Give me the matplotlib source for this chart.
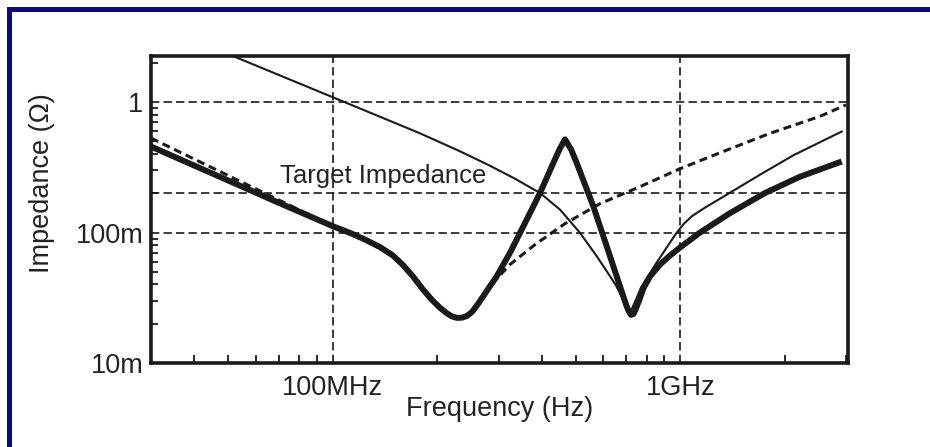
import numpy as np
import matplotlib
matplotlib.use('Agg')
import matplotlib.pyplot as plt
import matplotlib.ticker as plticker
from matplotlib.patches import Rectangle

# combined impedance (thick line)
total_freq = [30.0e6, 50.0e6, 70.0e6, 100.0e6, 112.1e6, 123.9e6, 136.8e6, 149.1e6, 159.3e6, 170.2e6,
	181.9e6, 193.1e6, 203.6e6, 213.3e6, 220.4e6, 227.9e6, 235.6e6, 243.5e6, 251.7e6, 261.9e6, 271.3e6,
	296.5e6, 323.7e6, 353.6e6, 395.0e6, 431.3e6, 449.5e6, 466.1e6, 485.1e6, 503.8e6, 562.3e6, 614.4e6,
	656.6e6, 680.1e6, 698.3e6, 710.0e6, 721.9e6, 734.0e6, 746.2e6, 763.7e6, 783.2e6, 818.8e6, 874.8e6,
	934.6e6, 998.7e6, 1.140e9, 1.391e9, 1.754e9, 2.212e9, 2.916e9]
total_z = [0.457, 0.251, 0.169, 0.112, 0.0995, 0.0884, 0.0774, 0.0667, 0.0564, 0.0461,
	0.0366, 0.03045, 0.0265, 0.0240, 0.02277, 0.02218, 0.02226, 0.02297, 0.02464, 0.02837, 0.0326,
	0.0463, 0.0700, 0.1117, 0.2012, 0.3414, 0.4354, 0.5192, 0.4354, 0.3414, 0.159, 0.0786,
	0.0461, 0.03475, 0.02812, 0.02508, 0.02338, 0.0238, 0.02622, 0.0307, 0.03728, 0.0461, 0.0569,
	0.06669, 0.07677, 0.100, 0.141, 0.2012, 0.2683, 0.351]

# thin solid line
thin_freq = [30.0e6, 51.6e6, 107.3e6, 178.3e6, 232.4e6, 283.5e6, 334.7e6, 395.0e6, 451.0e6, 514.9e6,
	575.2e6, 628.1e6, 653.6e6, 680.1e6, 698.3e6, 712.4e6, 726.7e6, 746.2e6, 771.3e6, 801.1e6, 852.0e6,
	914.4e6, 972.6e6, 1.0255e9, 1.0812e9, 1.178e9, 1.361e9, 1.697e9, 2.116e9, 2.916e9]
thin_z = [4.15, 2.26, 1.0106, 0.5771, 0.4203, 0.3256, 0.2589, 0.2012, 0.150, 0.0995,
	0.0659, 0.0463, 0.0393, 0.0318, 0.0267, 0.0249, 0.0262, 0.0307, 0.0379, 0.0445, 0.0579,
	0.0768, 0.0983, 0.1172, 0.1337, 0.1553, 0.1953, 0.2779, 0.3915, 0.5956]

# dashed line
dash_freq = [30.0e6, 54.8e6, 100.4e6, 112.1e6, 123.9e6, 136.8e6, 149.1e6, 159.3e6, 170.2e6, 181.9e6,
	193.1e6, 203.6e6, 213.3e6, 220.4e6, 227.9e6, 235.6e6, 243.5e6, 251.7e6, 261.9e6, 271.3e6,
	283.6e6, 323.7e6, 382.1e6, 466.2e6, 587.9e6, 766.1e6, 998.7e6, 1.302e9, 1.813e9, 2.525e9, 3.0e9]
dash_z = [0.5304, 0.2434, 0.1117, 0.0995, 0.0884, 0.0774, 0.0667, 0.0564, 0.0461, 0.0366,
	0.03045, 0.0265, 0.0240, 0.02277, 0.02218, 0.02226, 0.02297, 0.02464, 0.02837, 0.0326,
	0.0388, 0.0569, 0.0809, 0.1172, 0.1667, 0.2249, 0.3089, 0.4094, 0.577, 0.779, 0.953]

target_z = 0.2
x_ticks = [100e6, 1e9]
x_ticklabels = ['100MHz', '1GHz']
y_ticks = [0.01, 0.1, 1]
y_ticklabels = ['10m', '100m', '1']

plt.rcParams['font.family'] = ['Liberation Sans', 'DejaVu Sans']
ink = '#1a1a1a'

fig = plt.figure(figsize=(9.3, 4.47), dpi=100, facecolor='white')
ax = fig.add_axes([0.16237, 0.18792, 0.74946, 0.68680])

ax.set_xscale('log')
ax.set_yscale('log')
ax.set_xlim(30e6, 3.04e9)
ax.set_ylim(0.01, 2.26)

ax.axhline(target_z, color=ink, lw=1.2, dashes=(5, 2.5), zorder=1)
ax.plot(dash_freq, dash_z, color=ink, lw=2.2, dashes=(2.6, 1.6), zorder=3)
ax.plot(thin_freq, thin_z, color=ink, lw=1.5, zorder=4, solid_joinstyle='round')
ax.plot(total_freq, total_z, color=ink, lw=4.3, zorder=5, solid_joinstyle='round', solid_capstyle='butt')

ax.set_xticks(x_ticks)
ax.set_xticklabels(x_ticklabels)
ax.set_yticks(y_ticks)
ax.set_yticklabels(y_ticklabels)
ax.xaxis.set_minor_locator(plticker.LogLocator(base=10, subs=np.arange(2, 10)))
ax.yaxis.set_minor_locator(plticker.LogLocator(base=10, subs=np.arange(2, 10)))
ax.xaxis.set_minor_formatter(plticker.NullFormatter())
ax.yaxis.set_minor_formatter(plticker.NullFormatter())

ax.grid(True, which='major', color=ink, lw=1.2, dashes=(5, 2.5))
ax.set_axisbelow(True)

ax.tick_params(axis='both', which='both', direction='in', color=ink, labelcolor='#222222', labelsize=19.5)
ax.tick_params(axis='x', which='major', length=0, pad=9)
ax.tick_params(axis='x', which='minor', length=6, width=1.3)
ax.tick_params(axis='y', which='major', length=0, pad=5.5)
ax.tick_params(axis='y', which='minor', length=5, width=1.3)

for spine in ax.spines.values():
	spine.set_linewidth(2.6)
	spine.set_color(ink)

ax.set_xlabel('Frequency (Hz)', fontsize=19.5, color='#222222', labelpad=-4)
ax.set_ylabel('Impedance (Ω)', fontsize=19.5, color='#222222', va='center')
ax.yaxis.set_label_coords(-0.157, 0.586)

ax.text(0.185, 0.585, 'Target Impedance', transform=ax.transAxes, fontsize=18.5,
	color='#222222', va='baseline', ha='left')

# blue frame on top and left of the picture
fig.patches.append(Rectangle((7 / 930, (447 - 12) / 447), 1, 5 / 447, transform=fig.transFigure,
	facecolor='#0a0a8a', edgecolor='none'))
fig.patches.append(Rectangle((7 / 930, 0), 5 / 930, (447 - 7) / 447, transform=fig.transFigure,
	facecolor='#0a0a8a', edgecolor='none'))

plt.savefig('out.png', dpi=100, facecolor='white')
